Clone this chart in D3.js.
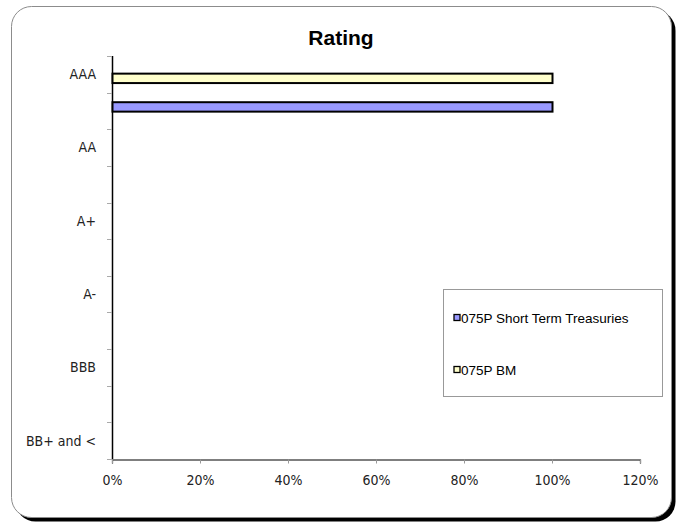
<!DOCTYPE html>
<html>
<head>
<meta charset="utf-8">
<script src="https://cdn.jsdelivr.net/npm/d3@7"></script>
<style>
  body { margin: 0; background: #fff; }
  svg text { font-family: "Liberation Sans", Arial, sans-serif; }
  .axis-label { font-family: "DejaVu Sans Condensed", "Liberation Sans Narrow", "Arial Narrow", sans-serif; font-stretch: condensed; font-size: 14px; fill: #222; }
</style>
</head>
<body>
<div id="chartArea"></div>
<script>
// data
let categories = ['AAA', 'AA', 'A+', 'A-', 'BBB', 'BB+ and <']
let seriesNames = ['075P BM', '075P Short Term Treasuries']
let bmValues = [100, 0, 0, 0, 0, 0]
let fundValues = [100, 0, 0, 0, 0, 0]
let xTicks = [0, 20, 40, 60, 80, 100, 120]

let colors = { '075P BM': '#ffffcc', '075P Short Term Treasuries': '#9999ff' }

let svgWidth = 683
let svgHeight = 525

let svg = d3.select('#chartArea')
  .append('svg')
  .attr('width', svgWidth)
  .attr('height', svgHeight)

// frame with shadow
svg.append('rect')
  .attr('x', 15.5).attr('y', 10.5)
  .attr('width', 660).attr('height', 511)
  .attr('rx', 20)
  .attr('fill', '#000')
svg.append('rect')
  .attr('x', 11.5).attr('y', 6.5)
  .attr('width', 660).attr('height', 511)
  .attr('rx', 20)
  .attr('fill', '#fff')
  .attr('stroke', '#8c8c8c')
  .attr('stroke-width', 1)

svg.append('text')
  .attr('x', 341)
  .attr('y', 45)
  .attr('text-anchor', 'middle')
  .style('font-size', '21px')
  .style('font-weight', 'bold')
  .text('Rating')

let xScale = d3.scaleLinear()
  .domain([0, 120])
  .range([112, 640])

// each category takes two slots on the axis
let slots = d3.range(categories.length * 2 - 1)
let yScale = d3.scaleBand()
  .domain(slots)
  .range([56, 459])
let bw = yScale.bandwidth()

let inner = d3.scaleBand()
  .domain(seriesNames)
  .range([-20, 20])
  .paddingInner(0.6)

// x axis
let xAxis = svg.append('g')
  .attr('transform', 'translate(0,459.5)')
  .call(d3.axisBottom(xScale).tickValues(xTicks).tickSize(4).tickPadding(12).tickFormat(d => d + '%'))
xAxis.select('.domain').attr('stroke', '#000').attr('stroke-width', 1.2)
xAxis.selectAll('.tick line').attr('stroke', '#999')
xAxis.selectAll('.tick text').attr('class', 'axis-label')

// y axis line and ticks
let yTicks = slots.map(s => yScale(s)).concat([459])
svg.append('line')
  .attr('x1', 112.5).attr('x2', 112.5)
  .attr('y1', 56).attr('y2', 459)
  .attr('stroke', '#000').attr('stroke-width', 1.5)
svg.selectAll('.ytick')
  .data(yTicks)
  .enter()
  .append('line')
  .attr('class', 'ytick')
  .attr('x1', 107).attr('x2', 112)
  .attr('y1', d => Math.round(d) + 0.5)
  .attr('y2', d => Math.round(d) + 0.5)
  .attr('stroke', '#aaa')

svg.selectAll('.ylabel')
  .data(categories)
  .enter()
  .append('text')
  .attr('class', 'axis-label')
  .attr('x', 96)
  .attr('y', (d, i) => yScale(i * 2) + bw / 2)
  .attr('dy', '0.35em')
  .attr('text-anchor', 'end')
  .text(d => d)

// bars
let table = []
categories.forEach((c, i) => {
  table.push({ cat: i, series: '075P BM', value: bmValues[i] })
  table.push({ cat: i, series: '075P Short Term Treasuries', value: fundValues[i] })
})

svg.selectAll('.bar')
  .data(table.filter(d => d.value > 0))
  .enter()
  .append('rect')
  .attr('class', 'bar')
  .attr('x', xScale(0) + 0.5)
  .attr('y', d => yScale(d.cat * 2) + bw + inner(d.series) + 1)
  .attr('width', d => xScale(d.value) - xScale(0))
  .attr('height', inner.bandwidth() - 2)
  .attr('fill', d => colors[d.series])
  .attr('stroke', '#000')
  .attr('stroke-width', 2)

// legend
let legend = svg.append('g')
legend.append('rect')
  .attr('x', 443.5).attr('y', 289.5)
  .attr('width', 219).attr('height', 107)
  .attr('fill', '#fff')
  .attr('stroke', '#999')

let legendOrder = ['075P Short Term Treasuries', '075P BM']
let legendY = d3.scalePoint().domain(legendOrder).range([318, 370])

legendOrder.forEach(name => {
  legend.append('rect')
    .attr('x', 454).attr('y', legendY(name) - 3.5)
    .attr('width', 6).attr('height', 6)
    .attr('fill', colors[name])
    .attr('stroke', '#000')
    .attr('stroke-width', 1.3)
  legend.append('text')
    .attr('x', 461)
    .attr('y', legendY(name))
    .attr('dy', '0.35em')
    .style('font-size', '13.5px')
    .text(name)
})
</script>
</body>
</html>
